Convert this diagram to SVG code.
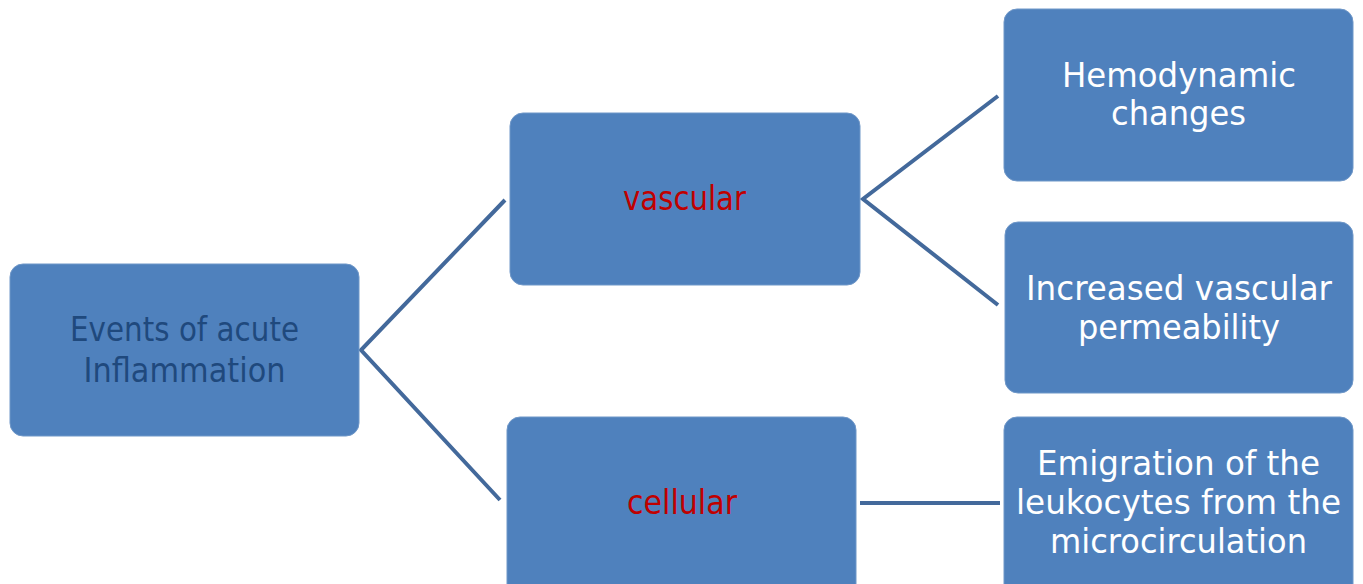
<svg xmlns="http://www.w3.org/2000/svg" width="1363" height="584" viewBox="0 0 1363 584">
<style>
.box{fill:#4F81BD;stroke:#6F97C8;stroke-width:1}
.t{font-family:"DejaVu Sans","Liberation Sans",sans-serif;font-size:34px;text-anchor:middle}
.w{fill:#FFFFFF}
.r{fill:#C00000}
.d{fill:#1F497D}
.c{stroke:#43699B;stroke-width:4;fill:none}
</style>
<rect width="1363" height="584" fill="#FFFFFF"/>
<g id="connectors">
<polyline class="c" points="505,200 361,350 500,500"/>
<polyline class="c" points="998,96 863,199 998,305"/>
<line class="c" x1="860" y1="503" x2="1000" y2="503"/>
</g>
<g id="events">
<rect class="box" x="10" y="264" width="349" height="172" rx="13"/>
<text class="t d" x="184.5" y="341" textLength="229" lengthAdjust="spacingAndGlyphs">Events of acute</text>
<text class="t d" x="184.5" y="382" textLength="202" lengthAdjust="spacingAndGlyphs">Inflammation</text>
</g>
<g id="vascular">
<rect class="box" x="510" y="113" width="350" height="172" rx="13"/>
<text class="t r" x="684.5" y="210" textLength="123" lengthAdjust="spacingAndGlyphs">vascular</text>
</g>
<g id="cellular">
<rect class="box" x="507" y="417" width="349" height="180" rx="13"/>
<text class="t r" x="682" y="514" textLength="110" lengthAdjust="spacingAndGlyphs">cellular</text>
</g>
<g id="hemodynamic">
<rect class="box" x="1004" y="9" width="349" height="172" rx="13"/>
<text class="t w" x="1179" y="87" textLength="234" lengthAdjust="spacingAndGlyphs">Hemodynamic</text>
<text class="t w" x="1178.5" y="125" textLength="135" lengthAdjust="spacingAndGlyphs">changes</text>
</g>
<g id="permeability">
<rect class="box" x="1005" y="222" width="348" height="171" rx="13"/>
<text class="t w" x="1179" y="300" textLength="306" lengthAdjust="spacingAndGlyphs">Increased vascular</text>
<text class="t w" x="1179" y="339" textLength="202" lengthAdjust="spacingAndGlyphs">permeability</text>
</g>
<g id="emigration">
<rect class="box" x="1004" y="417" width="349" height="180" rx="13"/>
<text class="t w" x="1178.5" y="475" textLength="283" lengthAdjust="spacingAndGlyphs">Emigration of the</text>
<text class="t w" x="1178.5" y="514" textLength="325" lengthAdjust="spacingAndGlyphs">leukocytes from the</text>
<text class="t w" x="1178.5" y="553" textLength="257" lengthAdjust="spacingAndGlyphs">microcirculation</text>
</g>
</svg>
